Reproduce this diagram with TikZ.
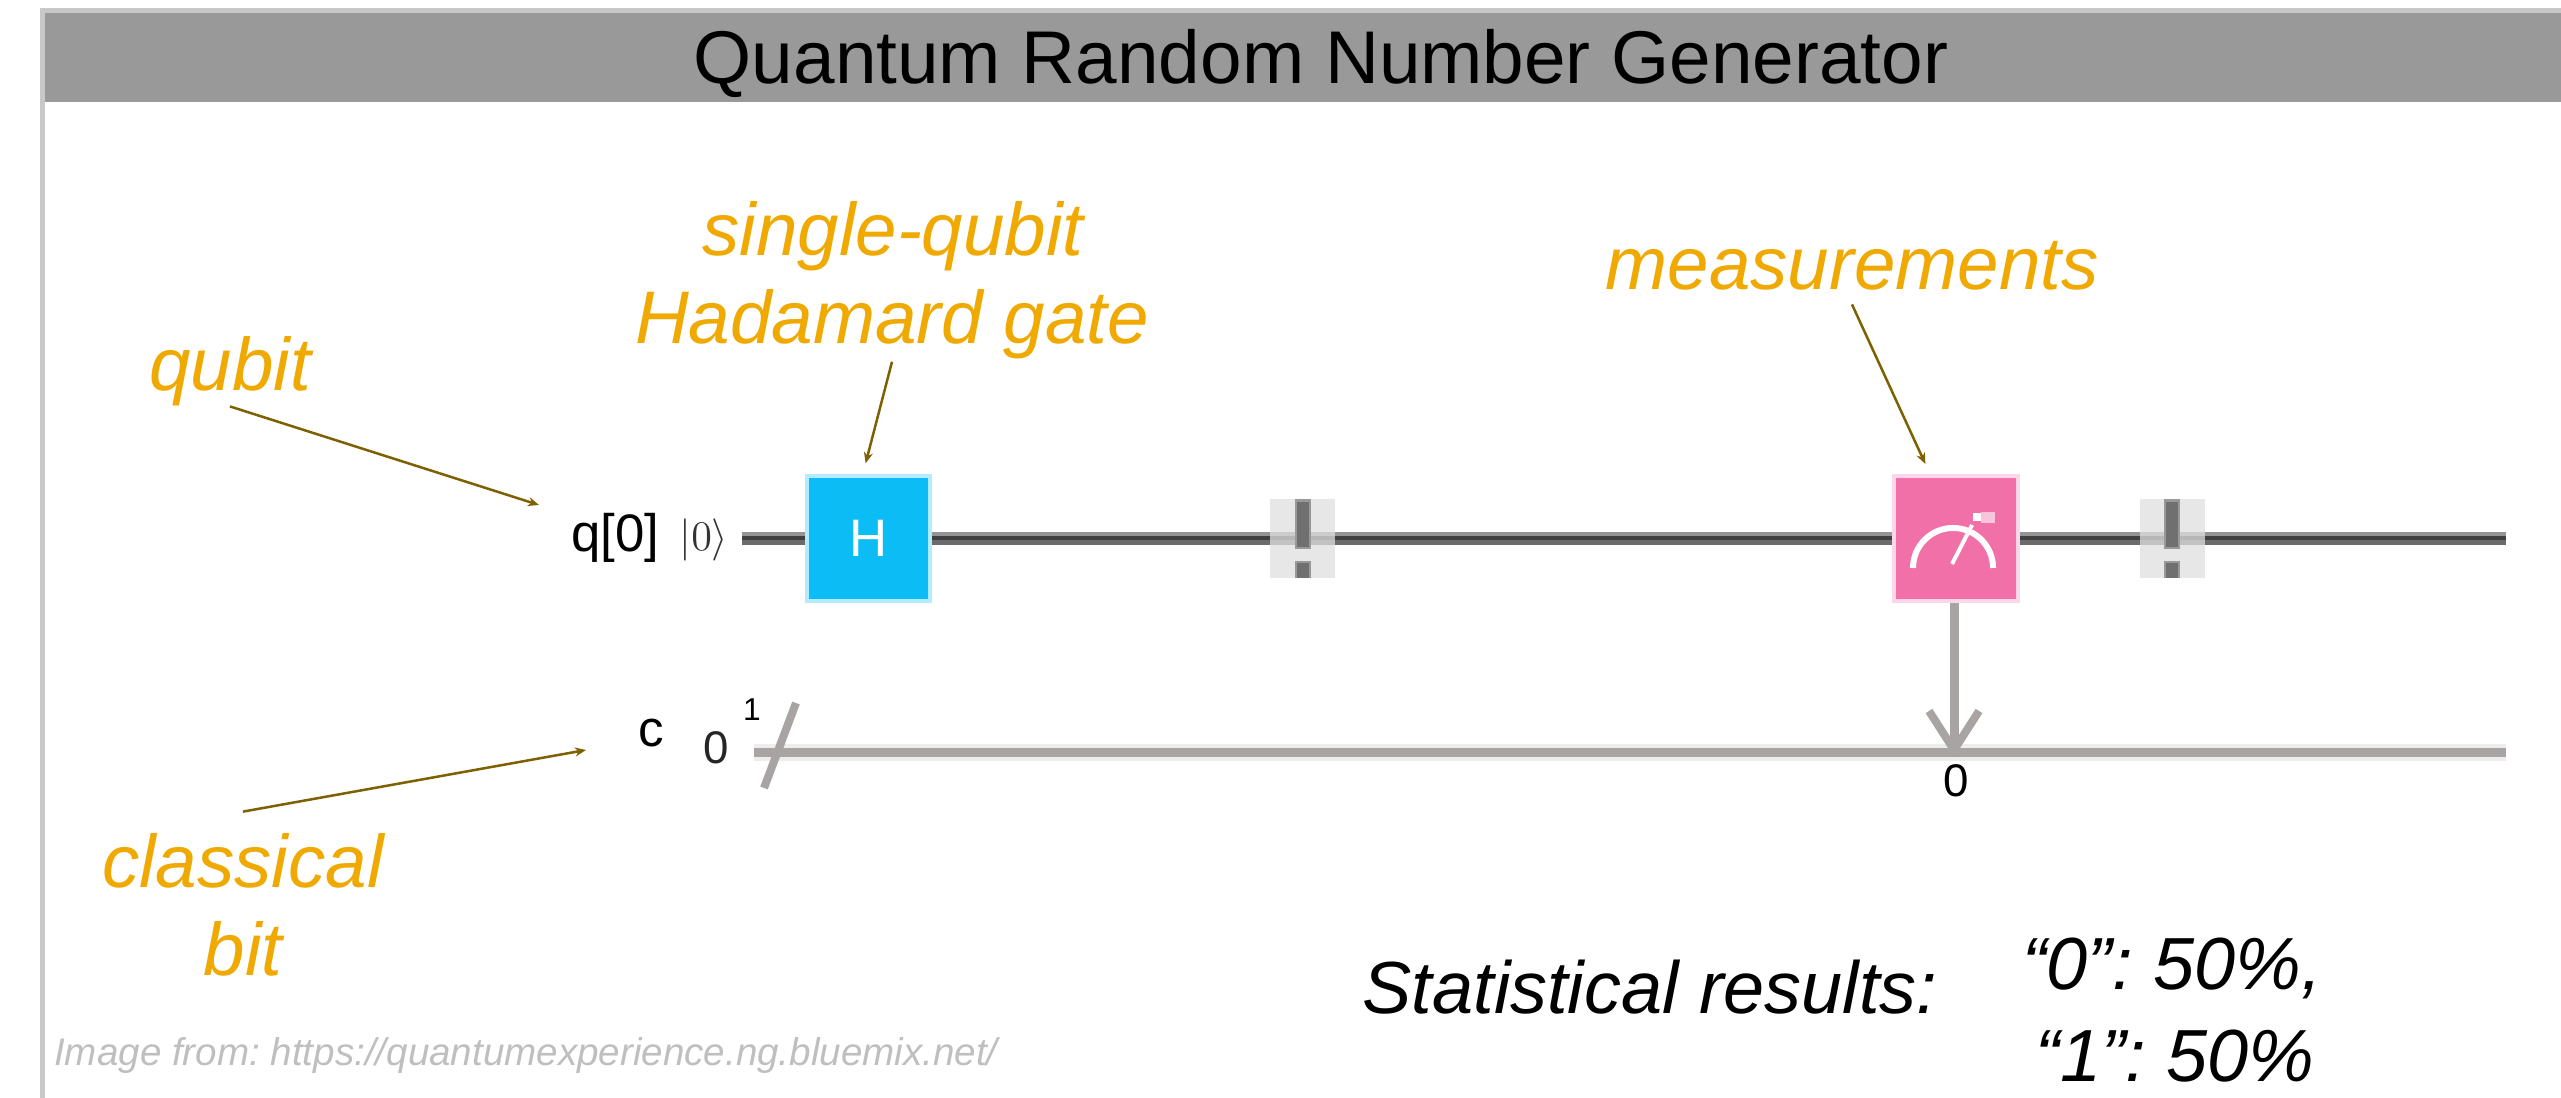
\documentclass[tikz,border=0pt]{standalone}
\usepackage{fontspec}
\setmainfont{Liberation Sans}
\usepackage{tikz}
\usetikzlibrary{arrows.meta,positioning}
\definecolor{qrHead}{HTML}{999999}
\definecolor{qrFrame}{HTML}{C8C8C8}
\definecolor{qrOrange}{HTML}{EFA900}
\definecolor{qrBrown}{HTML}{7F6000}
\definecolor{qrBlue}{HTML}{0CBDF5}
\definecolor{qrBlueL}{HTML}{B3ECFF}
\definecolor{qrPink}{HTML}{F170A8}
\definecolor{qrPinkL}{HTML}{FCD7E7}
\definecolor{qrWire}{HTML}{A8A4A3}
\tikzset{
  note/.style={text=qrOrange, font=\fontsize{21.2pt}{25pt}\selectfont\itshape, inner sep=0pt},
  plain/.style={font=\fontsize{21pt}{25pt}\selectfont\itshape, inner sep=0pt},
  wirelabel/.style={font=\fontsize{13pt}{15pt}\selectfont, inner sep=0pt},
  pointer/.style={draw=qrBrown, line width=0.025cm, -{Stealth[length=0.11cm,width=0.09cm]}},
  gate/.style={minimum width=1.23cm, minimum height=1.25cm, inner sep=0pt, line width=0.04cm},
}
\begin{document}
\frenchspacing
\begin{tikzpicture}[x=0.01cm,y=-0.01cm]
\useasboundingbox (0,0) rectangle (2561,1098);
% frame and head
\fill[qrFrame] (40,8) rectangle (2561,1098);
\fill[white] (45,13) rectangle (2561,1098);
\fill[qrHead] (45,13) rectangle (2561,102);
\node[inner sep=0pt, font=\fontsize{21.25pt}{25pt}\selectfont] (title) at (1321,63) {Quantum Random Number Generator};
% wires
\coordinate (qstart) at (742,538.5);
\coordinate (qend) at (2506,538.5);
\coordinate (cstart) at (754,752.5);
\coordinate (cend) at (2506,752.5);
\draw[black!42, line width=0.13cm] (qstart) -- (qend);
\draw[black!58, line width=0.05cm] ([yshift=-0.04cm]qstart) -- ([yshift=-0.04cm]qend);
\draw[black!75, line width=0.04cm] (qstart) -- (qend);
\draw[black!7, line width=0.17cm] (cstart) -- (cend);
\draw[qrWire, line width=0.09cm] (cstart) -- (cend);
\coordinate (slashlow) at (764,788);
\coordinate (slashtop) at (796,703);
\draw[qrWire, line width=0.08cm] (slashlow) -- (slashtop);
% gates
\node[gate, fill=qrBlue, draw=qrBlueL, text=white, font=\fontsize{15pt}{18pt}\selectfont] (hgate) at (868.5,538.5) {H};
\node[gate, fill=qrPink, draw=qrPinkL] (meas) at (1956,538.5) {};
\draw[white, line width=0.06cm] (1913,568) arc (180:0:0.40cm);
\draw[white, line width=0.04cm] (1952,564) -- (1972,525);
\fill[white] (1973,513) rectangle (1981,521);
\fill[white, opacity=0.6] (1981,512) rectangle (1995,523);
\foreach \bx/\bname in {1302.5/barA, 2172/barB}{
  \node[minimum width=0.65cm, minimum height=0.79cm, inner sep=0pt, fill=black!12, fill opacity=0.75] (\bname) at (\bx,538.5) {};
  \fill[black!40] (\bx-8,499) rectangle (\bx+8,549);
  \fill[black!40] (\bx-8,561) rectangle (\bx+8,578);
  \fill[black!56] (\bx-6,502) rectangle (\bx+6,547);
  \fill[black!56] (\bx-6,563) rectangle (\bx+6,578);
}
% measurement into classical bit
\coordinate (measbit) at (1954,750);
\draw[qrWire, line width=0.09cm] (meas.south -| measbit) -- (measbit);
\draw[qrWire, line width=0.08cm] (1929,711) -- (measbit) -- (1979,711);
% labels at the wires
\node[wirelabel, font=\fontsize{15pt}{17pt}\selectfont] (qlabel) at (615,538) {q[0]};
\node[wirelabel, font=\fontsize{12.5pt}{15pt}\selectfont, text=black!80] (ket) at (704,540) {$|0\rangle$};
\node[wirelabel, font=\fontsize{14.5pt}{16pt}\selectfont] (clabel) at (651,733) {c};
\node[wirelabel, text=black!85] (czero) at (716,748) {0};
\node[wirelabel, font=\fontsize{9pt}{10pt}\selectfont] (cwidth) at (752,710) {1};
\node[wirelabel] (bitzero) at (1956,781) {0};
% notes
\node[note] (qubit) at (230,371) {qubit};
\node[note] (single) at (893,236) {single-qubit};
\node[note, outer sep=0.03cm] (hadamard) at (892,324) {Hadamard gate};
\node[note, outer sep=0.14cm] (measures) at (1852,266) {measurements};
\node[note, outer sep=0.22cm] (classical) at (243,861) {classical};
\node[note] (bit) at (243,949) {bit};
\coordinate (qubitto) at (539,505);
\coordinate (cto) at (586,750);
\draw[pointer] (qubit.south) -- (qubitto);
\draw[pointer, shorten >=0.11cm] (hadamard.south) -- (hgate.95);
\draw[pointer, shorten >=0.11cm] (measures.south) -- (meas.112);
\draw[pointer] (classical.north) -- (cto);
% results
\node[plain] (stats) at (1650,987) {Statistical results:};
\node[plain] (zero) at (2172,968) {“0”: 50\%,};
\node[plain] (one) at (2175,1056) {“1”: 50\%};
\node[inner sep=0pt, text=black!25, font=\fontsize{10.97pt}{13pt}\selectfont\itshape] (source) at (526,1056) {Image from: https://quantumexperience.ng.bluemix.net/};
\end{tikzpicture}
\end{document}
